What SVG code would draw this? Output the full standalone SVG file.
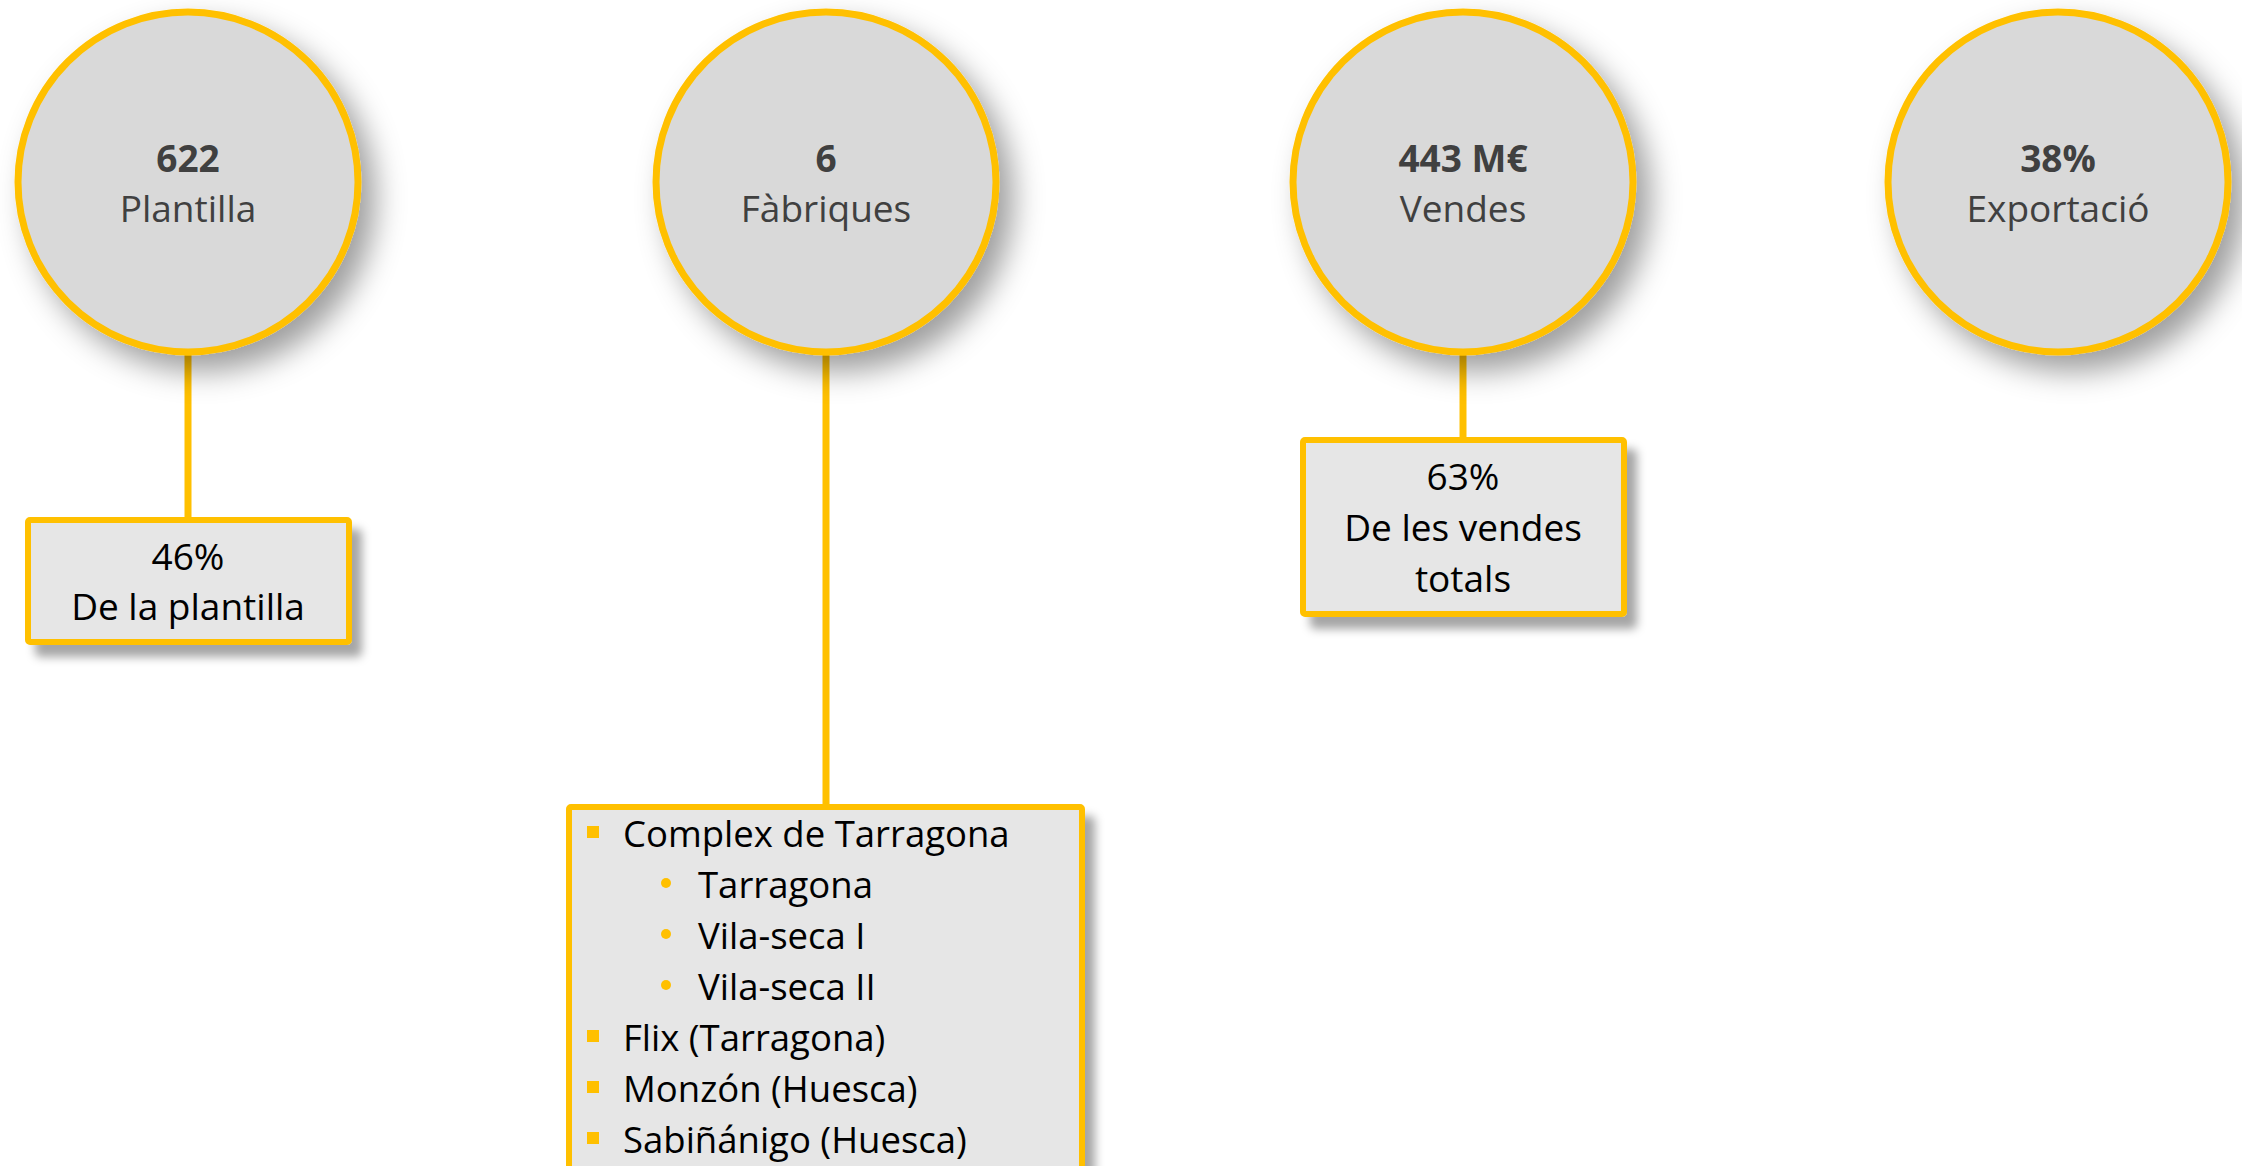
<svg xmlns="http://www.w3.org/2000/svg" width="2242" height="1166" viewBox="0 0 2242 1166">
  <style>
    .circ { fill: #d9d9d9; stroke: #ffc000; stroke-width: 7; filter: url(#shCirc); }
    .box { fill: #e6e6e6; stroke: #ffc000; stroke-width: 6; filter: url(#shBox); }
    .conn { stroke: #ffc000; stroke-width: 7; fill: none; }
    .big { font-family: "Open Sans", "Liberation Sans", sans-serif; font-size: 37px; font-weight: bold; fill: #404040; text-anchor: middle; }
    .lbl { font-family: "Open Sans", "Liberation Sans", sans-serif; font-size: 37px; fill: #404040; text-anchor: middle; }
    .btxt { font-family: "Open Sans", "Liberation Sans", sans-serif; font-size: 37px; fill: #000000; text-anchor: middle; }
    .ltxt { font-family: "Open Sans", "Liberation Sans", sans-serif; font-size: 36.5px; fill: #000000; }
    .bul { fill: #ffc000; }
  </style>
  <defs>
    <filter id="shCirc" x="-40%" y="-40%" width="190%" height="190%">
      <feDropShadow dx="14" dy="16" stdDeviation="15" flood-color="#000" flood-opacity="0.38"/>
    </filter>
    <filter id="shBox" x="-20%" y="-20%" width="150%" height="150%">
      <feDropShadow dx="10" dy="12" stdDeviation="5" flood-color="#000" flood-opacity="0.35"/>
    </filter>
  </defs>
  <rect width="2242" height="1166" fill="#ffffff"/>

  <g id="connectors">
    <line class="conn" x1="188" y1="350" x2="188" y2="520"/>
    <line class="conn" x1="826" y1="350" x2="826" y2="807"/>
    <line class="conn" x1="1463" y1="350" x2="1463" y2="440"/>
  </g>

  <g id="node-plantilla">
    <circle class="circ" cx="188" cy="182" r="170"/>
    <text class="big" x="188" y="172">622</text>
    <text class="lbl" x="188" y="222">Plantilla</text>
  </g>

  <g id="node-fabriques">
    <circle class="circ" cx="826" cy="182" r="170"/>
    <text class="big" x="826" y="172">6</text>
    <text class="lbl" x="826" y="222">Fàbriques</text>
  </g>

  <g id="node-vendes">
    <circle class="circ" cx="1463" cy="182" r="170"/>
    <text class="big" x="1463" y="172">443 M€</text>
    <text class="lbl" x="1463" y="222">Vendes</text>
  </g>

  <g id="node-exportacio">
    <circle class="circ" cx="2058" cy="182" r="170"/>
    <text class="big" x="2058" y="172">38%</text>
    <text class="lbl" x="2058" y="222">Exportació</text>
  </g>

  <g id="box-plantilla">
    <rect class="box" x="28" y="520" width="321" height="122" rx="2"/>
    <text class="btxt" x="188" y="570">46%</text>
    <text class="btxt" x="188" y="620">De la plantilla</text>
  </g>

  <g id="box-vendes">
    <rect class="box" x="1303" y="440" width="321" height="174" rx="2"/>
    <text class="btxt" x="1463" y="490">63%</text>
    <text class="btxt" x="1463" y="541">De les vendes</text>
    <text class="btxt" x="1463" y="592">totals</text>
  </g>

  <g id="box-fabriques">
    <rect class="box" x="569" y="807" width="513" height="362" rx="2"/>
    <rect class="bul" x="587" y="826" width="12" height="12"/>
    <text class="ltxt" x="623" y="847">Complex de Tarragona</text>
    <circle class="bul" cx="666" cy="883" r="5"/>
    <text class="ltxt" x="698" y="898">Tarragona</text>
    <circle class="bul" cx="666" cy="934" r="5"/>
    <text class="ltxt" x="698" y="949">Vila-seca I</text>
    <circle class="bul" cx="666" cy="985" r="5"/>
    <text class="ltxt" x="698" y="1000">Vila-seca II</text>
    <rect class="bul" x="587" y="1030" width="12" height="12"/>
    <text class="ltxt" x="623" y="1051">Flix (Tarragona)</text>
    <rect class="bul" x="587" y="1081" width="12" height="12"/>
    <text class="ltxt" x="623" y="1102">Monzón (Huesca)</text>
    <rect class="bul" x="587" y="1132" width="12" height="12"/>
    <text class="ltxt" x="623" y="1153">Sabiñánigo (Huesca)</text>
  </g>
</svg>
